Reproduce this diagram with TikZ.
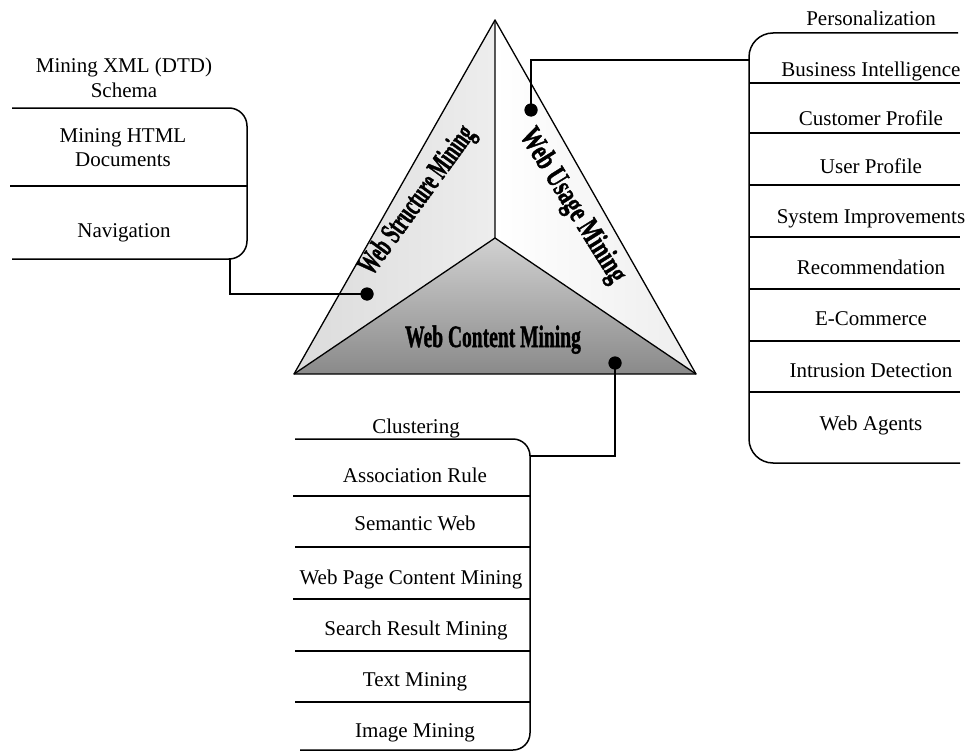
\documentclass[tikz,border=0pt]{standalone}
\usepackage{fontspec}
\setmainfont{Liberation Serif}
\newfontfamily\heavyfont[BoldFeatures={FakeBold=1.6}]{Liberation Serif}
\begin{document}
\begin{tikzpicture}[x=1pt,y=-1pt,
  item/.style={font=\fontsize{21}{24}\selectfont, anchor=base, inner sep=0pt},
  sepline/.style={line width=1.5pt},
  conn/.style={line width=1.5pt},
  dotmark/.style={circle, fill=black, minimum size=13pt, inner sep=0pt},
  facebord/.style={line width=1.3pt, line join=round},
  lbl/.style={font=\heavyfont\bfseries\fontsize{31}{34}\selectfont, inner sep=0pt}]
\useasboundingbox (0,0) rectangle (967,752);
% triangle corners
\coordinate (A) at (495,20);
\coordinate (L) at (294,374);
\coordinate (R) at (696,374);
\coordinate (O) at (495,238);
% faces
\shade[left color=black!14, right color=black!7] (A) -- (O) -- (L) -- cycle;
\shade[left color=white, right color=black!7] (A) -- (R) -- (O) -- cycle;
\shade[top color=black!18, bottom color=black!46] (L) -- (O) -- (R) -- cycle;
\draw[facebord] (A) -- (R) -- (L) -- cycle;
\draw[facebord] (A) -- (O) (L) -- (O) -- (R);
% labels on the triangle
\node[lbl, rotate=54] (wsm) at (418,201) {\scalebox{0.59}[1]{Web Structure Mining}};
\node[lbl, rotate=-58] (wum) at (572,206) {\scalebox{0.70}[1]{Web Usage Mining}};
\node[lbl, anchor=base] (wcm) at (493,347) {\scalebox{0.63}[1]{Web Content Mining}};
% left list (structure)
\draw[sepline, rounded corners=18pt] (12,108) -- (247,108) -- (247,259) -- (12,259);
\draw[sepline] (10,186) -- (247,186);
\node[item] (s1a) at (124,73) {Mining XML (DTD)};
\node[item] (s1b) at (124,97) {Schema};
\node[item] (s2a) at (123,142) {Mining HTML};
\node[item] (s2b) at (123,166) {Documents};
\node[item] (s3) at (124,237) {Navigation};
% right list (usage)
\draw[sepline, rounded corners=24pt] (958,33) -- (749,33) -- (749,463) -- (960,463);
\foreach \yy in {83,133,185,237,289,341,392} \draw[sepline] (749,\yy) -- (960,\yy);
\node[item] (u1) at (871,26) {Personalization};
\node[item] (u2) at (871,77) {Business Intelligence};
\node[item] (u3) at (871,125) {Customer Profile};
\node[item] (u4) at (871,173) {User Profile};
\node[item] (u5) at (871,223) {System Improvements};
\node[item] (u6) at (871,274) {Recommendation};
\node[item] (u7) at (871,325) {E-Commerce};
\node[item] (u8) at (871,377) {Intrusion Detection};
\node[item] (u9) at (871,430) {Web Agents};
% bottom list (content)
\draw[sepline, rounded corners=17pt] (295,439) -- (530,439) -- (530,750) -- (300,750);
\draw[sepline] (293,496) -- (530,496);
\draw[sepline] (295,547) -- (530,547);
\draw[sepline] (293,599) -- (530,599);
\draw[sepline] (295,651) -- (530,651);
\draw[sepline] (295,702) -- (530,702);
\node[item] (c1) at (416,433) {Clustering};
\node[item] (c2) at (415,482) {Association Rule};
\node[item] (c3) at (415,530) {Semantic Web};
\node[item] (c4) at (411,584) {Web Page Content Mining};
\node[item] (c5) at (416,635) {Search Result Mining};
\node[item] (c6) at (415,686) {Text Mining};
\node[item] (c7) at (415,737) {Image Mining};
% connectors
\coordinate (sBr) at (230,259);
\coordinate (sK) at (230,294);
\coordinate (uBr) at (749,60);
\coordinate (uK) at (531,60);
\coordinate (cBr) at (530,456);
\coordinate (cK) at (615,456);
\node[dotmark] (dS) at (367,294) {};
\node[dotmark] (dU) at (531,110) {};
\node[dotmark] (dC) at (615,363) {};
\draw[conn] (dS.center) -- (sK) -- (sBr);
\draw[conn] (dU.center) -- (uK) -- (uBr);
\draw[conn] (dC.center) -- (cK) -- (cBr);
\node[dotmark] at (dS) {};
\node[dotmark] at (dU) {};
\node[dotmark] at (dC) {};
\end{tikzpicture}
\end{document}
